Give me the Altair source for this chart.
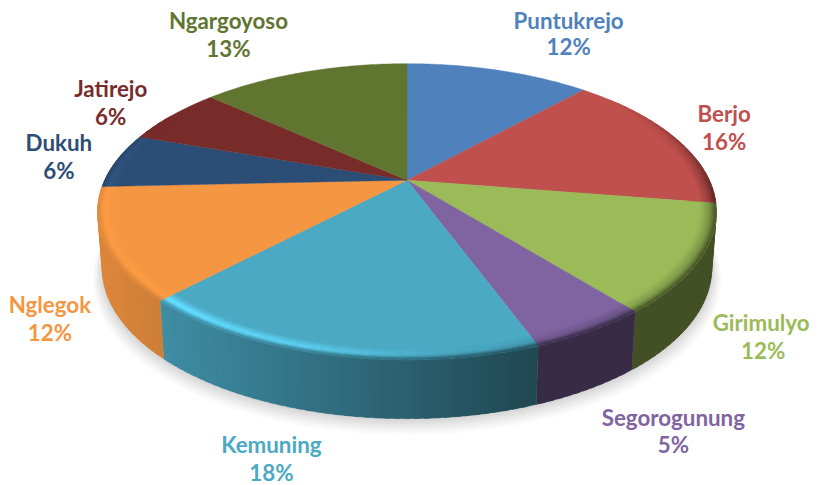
import math
import numpy as np
import altair as alt

names = ["Puntukrejo", "Berjo", "Girimulyo", "Segorogunung", "Kemuning", "Nglegok", "Dukuh", "Jatirejo", "Ngargoyoso"]
percent_labels = ["12%", "16%", "12%", "5%", "18%", "12%", "6%", "6%", "13%"]
shares = [11.8, 15.7, 11.65, 5.2, 17.8, 12.15, 6.0, 6.4, 13.3]
colors = ["#4F81BD", "#C0504D", "#9BBB59", "#8064A2", "#4BA9C4", "#F59642", "#2C4D75", "#772C2A", "#5F7530"]

W, H = 802, 469
CX, CY, R, RY, K = 399.0, 172.0, 303.0, 141.7, 0.213
LABEL_CENTRES = [(561, 13.5), (717, 107), (754, 316), (666, 411), (263, 439), (41, 298), (50, 136), (102, 82), (220, 13.5)]


def to_rgb(h):
    return np.array([int(h[i:i + 2], 16) for i in (1, 3, 5)], float)


def to_hex(c):
    c = np.clip(np.round(c), 0, 255).astype(int)
    return "#%02x%02x%02x" % tuple(c)


def top(a, r=1.0):
    u, v = math.sin(math.radians(a)) * r, -math.cos(math.radians(a)) * r
    w = 1 - K * v
    return CX + R * u / w, CY + RY * v / w


def bottom(a, extra=1.0, dy=0.0):
    x, y = top(a)
    v = -math.cos(math.radians(a))
    d = 56.0 + 3.0 * v
    return CX + (x - CX) * 0.985 * extra, (y + d - 212) * extra + 212 + dy


def side_shade(a):
    x = top(a)[0] + 8
    return float(np.interp(x, [100, 530], [0.9, 0.43]))


def rim_end(a):
    f = side_shade(a)
    fade = float(np.interp(a, [50, 100, 270, 300], [0, 1, 1, 0]))
    return 1 + (f - 1) * fade


def rim_peak(a):
    return float(np.interp(a, [60, 90, 120, 150, 175, 195, 230, 270, 300],
                           [1.0, 0.78, 0.8, 0.85, 1.0, 1.25, 1.4, 1.12, 1.0]))


def poly(points, color):
    pts = [list(map(float, p)) for p in points]
    pts.append(pts[0])
    return {"type": "Feature", "properties": {"c": color}, "geometry": {"type": "Polygon", "coordinates": [pts]}}


edges = [0.0]
for s in shares:
    edges.append(edges[-1] + s / sum(shares) * 360)

features = []

# soft shadow under the pie
STEPS = 10
for i in range(STEPS, 0, -1):
    t = i / STEPS
    grey = to_hex(np.array([255, 255, 255.0]) * (1 - 0.15 * (1 - t) ** 1.2 - 0.015))
    features.append(poly([bottom(a, 1 + 0.03 * t, 1 + 9 * t) for a in np.arange(60, 300.1, 3)], grey))

# side wall strips, each overlapping the next so no seam shows
for i in range(len(names)):
    a0, a1 = edges[i], edges[i + 1]
    lo, hi = max(a0, 80), min(a1, 285)
    if hi <= lo:
        continue
    base = to_rgb(colors[i])
    steps = max(1, int((hi - lo) / 1.5))
    grid = np.linspace(lo, hi, steps + 1)
    for g0, g1 in zip(grid[:-1], grid[1:]):
        ge = min(g1 + 1.0, hi)
        sub = np.linspace(g0, ge, 4)
        pts = [top(g) for g in sub] + [bottom(g) for g in sub[::-1]]
        features.append(poly(pts, to_hex(base * side_shade((g0 + g1) / 2))))

# top face
for i in range(len(names)):
    pts = [(CX, CY)] + [top(a) for a in np.linspace(edges[i], edges[i + 1], 60)]
    features.append(poly(pts, colors[i]))

# bevelled rim
BANDS = 7
RIM = 0.05
for i in range(len(names)):
    a0, a1 = edges[i], edges[i + 1]
    lo, hi = max(a0, 50), min(a1, 300)
    if hi <= lo:
        continue
    base = to_rgb(colors[i])
    grid = np.linspace(lo, hi, max(2, int((hi - lo) / 2)) + 1)
    for g0, g1 in zip(grid[:-1], grid[1:]):
        ge = min(g1 + 1.0, hi)
        m = (g0 + g1) / 2
        b, e = rim_peak(m), rim_end(m)
        if names[i] == "Nglegok":
            b = min(b, 1.04)
        for k in range(BANDS):
            t = (k + 0.5) / BANDS
            f = 1 + (b - 1) * t / 0.6 if t < 0.6 else b + (e - b) * (t - 0.6) / 0.4
            r0, r1 = 1 - RIM * (1 - k / BANDS), 1 - RIM * (1 - (k + 1) / BANDS)
            pts = [top(g0, r0), top(ge, r0), top(ge, r1), top(g0, r1)]
            features.append(poly(pts, to_hex(base * f)))

label_rows = []
for n, p, c, (x, y) in zip(names, percent_labels, colors, LABEL_CENTRES):
    label_rows.append({"t": n, "x": x, "y": y, "c": c})
    label_rows.append({"t": p, "x": x + (2 if n == "Girimulyo" else 0), "y": y + (26 if n == "Puntukrejo" else 28), "c": c})

pie = alt.Chart(alt.Data(values=features)).mark_geoshape(strokeWidth=0.4).encode(
    color=alt.Color("properties.c:N", scale=None, legend=None),
    stroke=alt.Stroke("properties.c:N", scale=None, legend=None),
).project(type="identity", scale=1, translate=[0, 0])

text = alt.Chart(alt.Data(values=label_rows)).mark_text(
    font="Lato", fontWeight="bold", fontSize=22.4, align="center", baseline="middle"
).encode(
    x=alt.X("x:Q", scale=alt.Scale(domain=[0, W], range=[0, W]), axis=None),
    y=alt.Y("y:Q", scale=alt.Scale(domain=[0, H], range=[0, H]), axis=None),
    text="t:N",
    color=alt.Color("c:N", scale=None, legend=None),
)

chart = alt.layer(pie, text).properties(width=W, height=H, padding=0, background="white").configure_view(stroke=None)
chart.save("out.html", embed_options={"renderer": "svg", "actions": False})
